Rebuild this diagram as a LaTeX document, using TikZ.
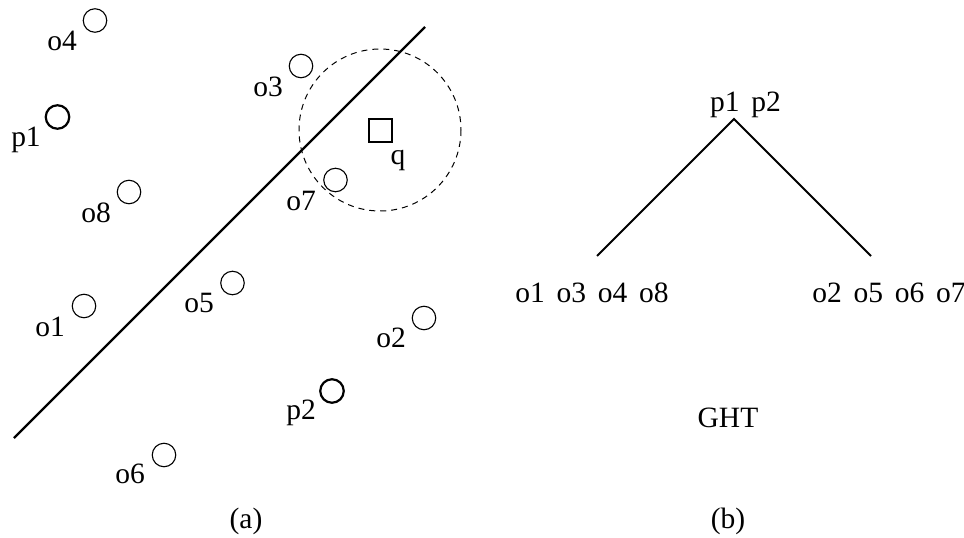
\documentclass[tikz,border=0pt]{standalone}
\usepackage{fontspec}
\setmainfont{Liberation Serif}
\newcommand{\wsep}{\hspace{0.4em}}
\begin{document}
\begin{tikzpicture}[x=1pt,y=-1pt,
  obj/.style={draw,circle,minimum size=23.5pt,inner sep=0pt,line width=1.1pt},
  piv/.style={draw,circle,minimum size=23.5pt,inner sep=0pt,line width=2.2pt},
  lbl/.style={anchor=base,inner sep=0pt,font=\fontsize{29.5}{33}\selectfont},
  qbox/.style={draw,rectangle,minimum size=23pt,inner sep=0pt,line width=2pt},
  heavy/.style={line width=2.4pt},
  treeline/.style={line width=2pt}]
\useasboundingbox (0,0) rectangle (964,538);
% points
\node[obj] (o4) at (95,20.5) {};
\node[piv] (p1) at (57.5,117) {};
\node[obj] (o3) at (301,66) {};
\node[obj] (o8) at (129,192) {};
\node[obj] (o7) at (335.5,180) {};
\node[obj] (o1) at (84,306) {};
\node[obj] (o5) at (232.5,283) {};
\node[obj] (o2) at (424,318) {};
\node[piv] (p2) at (332,391) {};
\node[obj] (o6) at (164,455) {};
\node[qbox] (q) at (380,130) {};
\draw[dashed,line width=1pt,dash pattern=on 6pt off 5pt] (q.center) circle (81);
% separating line
\coordinate (la) at (14,438);
\coordinate (lb) at (425,27);
\draw[heavy] (la) -- (lb);
% labels
\node[lbl] (lo4) at (62,50) {o4};
\node[lbl] (lp1) at (26,146) {p1};
\node[lbl] (lo3) at (268,96) {o3};
\node[lbl] (lo8) at (96,222) {o8};
\node[lbl] (lo7) at (301,210) {o7};
\node[lbl] (lq) at (398,164) {q};
\node[lbl] (lo1) at (50,336) {o1};
\node[lbl] (lo5) at (199,312) {o5};
\node[lbl] (lo2) at (391,347) {o2};
\node[lbl] (lp2) at (301,419) {p2};
\node[lbl] (lo6) at (130,483) {o6};
\node[lbl] (capa) at (246,528) {(a)};
% tree
\coordinate (apex) at (734,119);
\coordinate (lft) at (597,256);
\coordinate (rgt) at (871,256);
\draw[treeline] (lft) -- (apex) -- (rgt);
\node[lbl] (root) at (745.5,111) {p1\wsep p2};
\node[lbl] (leftset) at (592,302) {o1\wsep o3\wsep o4\wsep o8};
\node[lbl] (rightset) at (889,302) {o2\wsep o5\wsep o6\wsep o7};
\node[lbl] (ght) at (728,427) {GHT};
\node[lbl] (capb) at (728,528) {(b)};
\end{tikzpicture}
\end{document}
